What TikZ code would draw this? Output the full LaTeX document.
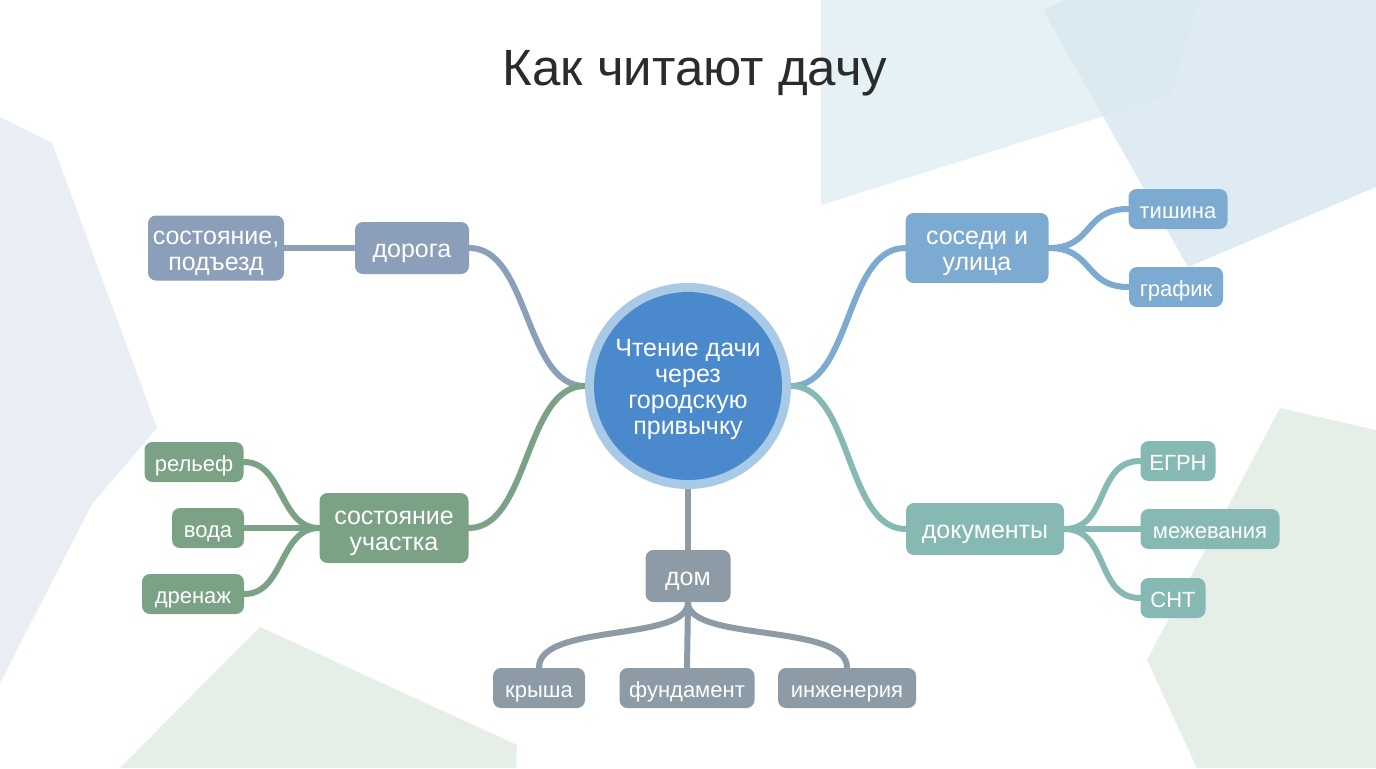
\documentclass[tikz,border=0pt]{standalone}
\usepackage{fontspec}
\setmainfont{Liberation Sans}
\definecolor{bgA}{HTML}{E5F1F4}
\definecolor{bgB}{HTML}{DAE8F1}
\definecolor{bgC}{HTML}{E8EEF3}
\definecolor{bgG}{HTML}{E6EFE7}
\definecolor{road}{HTML}{8C9FBA}
\definecolor{neigh}{HTML}{7DAAD0}
\definecolor{plot}{HTML}{7CA286}
\definecolor{docs}{HTML}{86B9B4}
\definecolor{house}{HTML}{8C9BA6}
\definecolor{core}{HTML}{4A89CB}
\definecolor{ring}{HTML}{A9CAE6}
\definecolor{titlec}{HTML}{2B2B2B}
\newcommand\tx[1]{\raisebox{-2.2pt}[\height][\depth]{\begin{tabular}{@{}c@{}}#1\end{tabular}}}
\pgfdeclarelayer{bg}
\pgfdeclarelayer{lines}
\pgfsetlayers{bg,lines,main}
\tikzset{
  box/.style={rounded corners=4pt, text=white, inner sep=0pt,
    minimum height=26pt, font=\fontsize{12.5}{13}\selectfont},
  leaf/.style={box, minimum height=20pt, font=\fontsize{11}{12.5}\selectfont},
  conn/.style={line width=3pt, line cap=round},
}
\begin{document}
\begin{tikzpicture}[x=0.5pt,y=-0.5pt]
\useasboundingbox (0,0) rectangle (1376,768);
\begin{pgfonlayer}{bg}
  \fill[white] (0,0) rectangle (1376,768);
  \fill[bgA] (821,0) -- (1199,0) -- (1171,95) -- (821,205) -- cycle;
  \fill[bgB, opacity=0.85] (1043,10) -- (1065,0) -- (1376,0) -- (1376,187) -- (1188,267) -- cycle;
  \fill[bgC] (0,117) -- (52,143) -- (157,428) -- (92,504) -- (0,683) -- cycle;
  \fill[bgG] (260,627) -- (517,745) -- (516,768) -- (120,768) -- cycle;
  \fill[bgG] (1280,408) -- (1376,430) -- (1376,768) -- (1197,768) -- (1147,660) -- cycle;
\end{pgfonlayer}

\node[text=titlec, font=\fontsize{25.5}{28}\selectfont] (title) at (695,73) {Как читают дачу};

% centre
\node[circle, fill=ring, minimum size=103pt, inner sep=0pt] (c) at (688,386) {};
\node[circle, fill=core, minimum size=94pt, inner sep=0pt, text=white,
  font=\fontsize{12.5}{12.9}\selectfont] (core) at (688,386)
  {\tx{Чтение дачи\\через\\городскую\\привычку}};

% road branch
\node[box, fill=road, minimum width=57pt] (road) at (412,248) {\tx{дорога}};
\node[box, fill=road, minimum width=68pt, minimum height=32.5pt] (access) at (216,248) {\tx{состояние,\\подъезд}};

% neighbours branch
\node[box, fill=neigh, minimum width=71.5pt, minimum height=35pt] (neigh) at (977,248) {\tx{соседи и\\улица}};
\node[leaf, fill=neigh, minimum width=49.5pt] (quiet) at (1178,209) {\tx{тишина}};
\node[leaf, fill=neigh, minimum width=47pt] (sched) at (1176,287) {\tx{график}};

% plot branch
\node[box, fill=plot, minimum width=74.5pt, minimum height=35pt] (plot) at (394,528) {\tx{состояние\\участка}};
\node[leaf, fill=plot, minimum width=49.5pt] (relief) at (194,462) {\tx{рельеф}};
\node[leaf, fill=plot, minimum width=36pt] (water) at (208,528) {\tx{вода}};
\node[leaf, fill=plot, minimum width=51pt] (drain) at (193,594) {\tx{дренаж}};

% documents branch
\node[box, fill=docs, minimum width=79pt] (docs) at (985,529) {\tx{документы}};
\node[leaf, fill=docs, minimum width=37.5pt] (egrn) at (1178,461) {\tx{ЕГРН}};
\node[leaf, fill=docs, minimum width=69.5pt] (survey) at (1210,529) {\tx{межевания}};
\node[leaf, fill=docs, minimum width=32.5pt] (snt) at (1173,598) {\tx{СНТ}};

% house branch
\node[box, fill=house, minimum width=42.5pt] (house) at (688,576) {\tx{дом}};
\node[leaf, fill=house, minimum width=46pt] (roof) at (539,688) {\tx{крыша}};
\node[leaf, fill=house, minimum width=67.5pt] (found) at (687,688) {\tx{фундамент}};
\node[leaf, fill=house, minimum width=69pt] (eng) at (847,688) {\tx{инженерия}};

\begin{pgfonlayer}{lines}
  \draw[conn, road] (road.east) .. controls +(60,0) and +(-60,0) .. (c.west);
  \draw[conn, road] (road.west) -- (access.east);
  \draw[conn, neigh] (c.east) .. controls +(60,0) and +(-60,0) .. (neigh.west);
  \draw[conn, neigh] (neigh.east) .. controls +(45,0) and +(-45,0) .. (quiet.west);
  \draw[conn, neigh] (neigh.east) .. controls +(45,0) and +(-45,0) .. (sched.west);
  \draw[conn, plot] (plot.east) .. controls +(60,0) and +(-60,0) .. (c.west);
  \draw[conn, plot] (plot.west) .. controls +(-40,0) and +(40,0) .. (relief.east);
  \draw[conn, plot] (plot.west) -- (water.east);
  \draw[conn, plot] (plot.west) .. controls +(-40,0) and +(40,0) .. (drain.east);
  \draw[conn, docs] (c.east) .. controls +(60,0) and +(-60,0) .. (docs.west);
  \draw[conn, docs] (docs.east) .. controls +(45,0) and +(-45,0) .. (egrn.west);
  \draw[conn, docs] (docs.east) -- (survey.west);
  \draw[conn, docs] (docs.east) .. controls +(45,0) and +(-45,0) .. (snt.west);
  \draw[conn, house] (c.south) -- (house.north);
  \draw[conn, house] (house.south) .. controls +(0,40) and +(0,-45) .. (roof.north);
  \draw[conn, house] (house.south) -- (found.north);
  \draw[conn, house] (house.south) .. controls +(0,40) and +(0,-45) .. (eng.north);
\end{pgfonlayer}
\end{tikzpicture}
\end{document}
